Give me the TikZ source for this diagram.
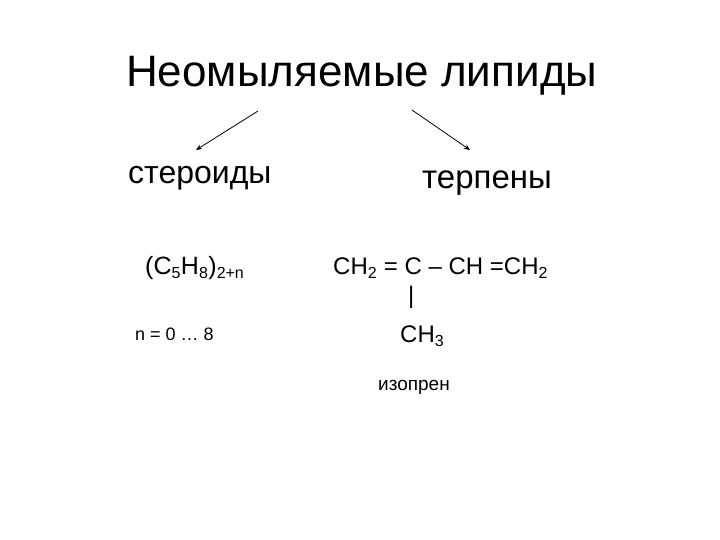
\documentclass[tikz,border=0pt]{standalone}
\usepackage{fontspec}
\setmainfont{Liberation Sans}
\tikzset{lbl/.style={inner sep=0pt,anchor=west},arr/.style={-{Stealth[length=6pt,width=5pt]},line width=0.8pt}}
\usetikzlibrary{arrows.meta}
\newcommand{\sbs}[1]{$_{\mbox{\fontsize{16}{18}\selectfont #1}}$}
\begin{document}
\begin{tikzpicture}[x=1pt,y=-1pt]
\useasboundingbox[fill=white] (0,0) rectangle (720,540);
\node[lbl,font=\fontsize{44}{50}\selectfont] (title) at (126,76) {Неомыляемые липиды};
\node[lbl,font=\fontsize{32}{36}\selectfont] (ster) at (128,178) {стероиды};
\node[lbl,font=\fontsize{33}{38}\selectfont] (terp) at (422,183) {терпены};
\coordinate (a1) at (258,111); \coordinate (b1) at (196,150);
\coordinate (a2) at (412,110); \coordinate (b2) at (470,150);
\draw[arr] (a1) -- (b1);
\draw[arr] (a2) -- (b2);
\node[lbl,font=\fontsize{25}{28}\selectfont] (form) at (145,268) {(C\sbs{5}H\sbs{8})\sbs{2+n}};
\node[lbl,font=\fontsize{24}{28}\selectfont] (iso) at (333,268) {CH\sbs{2} = C – CH =CH\sbs{2}};
\node[lbl,font=\fontsize{24}{28}\selectfont] (bar) at (408,297) {|};
\node[lbl,font=\fontsize{24}{28}\selectfont] (ch3) at (400,336) {CH\sbs{3}};
\node[lbl,font=\fontsize{18}{22}\selectfont] (n) at (135,334) {n = 0 … 8};
\node[lbl,font=\fontsize{19}{22}\selectfont] (izo) at (378,387) {изопрен};
\end{tikzpicture}
\end{document}
